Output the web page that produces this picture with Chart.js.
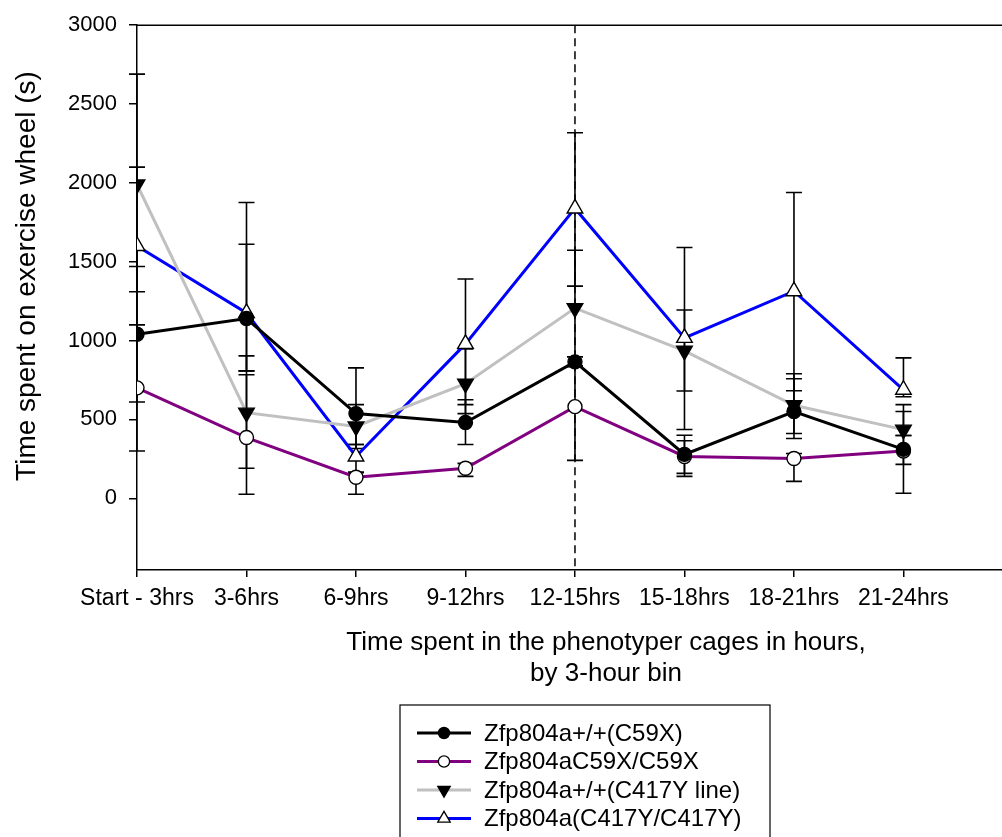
<!DOCTYPE html>
<html lang="en">
<head>
    <meta charset="UTF-8">
    <title>Exercise wheel</title>
    <script src="https://cdn.jsdelivr.net/npm/chart.js"></script>
    <style>
        body { margin: 0; background: #fff; }
        #wrap { width: 1002px; height: 837px; }
    </style>
</head>
<body>
    <div id="wrap">
        <canvas id="wheelChart" width="1002" height="837"></canvas>
    </div>

    <script>
        // categories (3-hour bins)
        const categories = ['Start - 3hrs', '3-6hrs', '6-9hrs', '9-12hrs', '12-15hrs', '15-18hrs', '18-21hrs', '21-24hrs'];
        const yTicks = [0, 500, 1000, 1500, 2000, 2500, 3000];

        // Zfp804a+/+(C59X)
        const wtC59X = [1040, 1140, 537, 480, 865, 278, 550, 310];
        const wtC59XHi = [1470, 1611, 827, 625, 897, 400, 758, 398];
        const wtC59XLo = [610, 808, 341, 341, 835, 158, 379, 215];
        // Zfp804aC59X/C59X
        const homC59X = [700, 385, 133, 190, 581, 265, 252, 300];
        const homC59XHi = [1100, 783, 164, 221, 897, 365, 284, 550];
        const homC59XLo = [300, 25, 25, 139, 240, 139, 107, 32];
        // Zfp804a+/+(C417Y line)
        const wtC417Y = [1990, 543, 455, 727, 1206, 935, 590, 435];
        const wtC417YHi = [2690, 903, 594, 947, 1573, 1194, 790, 594];
        const wtC417YLo = [1310, 190, 316, 537, 840, 680, 411, 398];
        // Zfp804a(C417Y/C417Y)
        const homC417Y = [1600, 1175, 265, 979, 1838, 1017, 1313, 688];
        const homC417YHi = [2100, 1876, 341, 1390, 2318, 1590, 1939, 890];
        const homC417YLo = [1100, 808, 164, 594, 1345, 436, 682, 644];

        const dividerAt = 4; // dashed line at 12-15hrs
        const FONT = "'Liberation Sans', Arial, sans-serif";

        function pts(vals) {
            return vals.map((v, i) => ({ x: i, y: v }));
        }

        const series = [
            { label: 'Zfp804a+/+(C59X)', data: wtC59X, hi: wtC59XHi, lo: wtC59XLo,
              color: '#000000', style: 'circle', fill: '#000000', r: 7, rot: 0 },
            { label: 'Zfp804aC59X/C59X', data: homC59X, hi: homC59XHi, lo: homC59XLo,
              color: '#800080', style: 'circle', fill: '#ffffff', r: 7, rot: 0 },
            { label: 'Zfp804a+/+(C417Y line)', data: wtC417Y, hi: wtC417YHi, lo: wtC417YLo,
              color: '#c0c0c0', style: 'triangle', fill: '#000000', r: 9, rot: 180 },
            { label: 'Zfp804a(C417Y/C417Y)', data: homC417Y, hi: homC417YHi, lo: homC417YLo,
              color: '#0000ff', style: 'triangle', fill: '#ffffff', r: 9, rot: 0 }
        ];

        // error bars, divider, frame, titles and legend
        const extras = {
            id: 'extras',
            beforeDatasetsDraw(chart) {
                const ctx = chart.ctx;
                const xs = chart.scales.x, ys = chart.scales.y;
                ctx.save();
                ctx.strokeStyle = '#000';
                ctx.lineWidth = 1.6;
                series.forEach(s => {
                    s.data.forEach((v, i) => {
                        const x = xs.getPixelForValue(i);
                        const yh = ys.getPixelForValue(s.hi[i]);
                        const yl = ys.getPixelForValue(s.lo[i]);
                        ctx.beginPath();
                        ctx.moveTo(x, yh); ctx.lineTo(x, yl);
                        ctx.moveTo(x - 8, yh); ctx.lineTo(x + 8, yh);
                        ctx.moveTo(x - 8, yl); ctx.lineTo(x + 8, yl);
                        ctx.stroke();
                    });
                });
                // dashed divider
                const dx = xs.getPixelForValue(dividerAt);
                ctx.setLineDash([8, 5]);
                ctx.lineWidth = 1.5;
                ctx.beginPath();
                ctx.moveTo(dx, chart.chartArea.top);
                ctx.lineTo(dx, chart.chartArea.bottom);
                ctx.stroke();
                ctx.restore();
            },
            afterDraw(chart) {
                const ctx = chart.ctx;
                const a = chart.chartArea;
                ctx.save();
                // top frame line
                ctx.strokeStyle = '#000';
                ctx.lineWidth = 1.5;
                ctx.beginPath();
                ctx.moveTo(a.left, a.top);
                ctx.lineTo(chart.width, a.top);
                ctx.stroke();

                // axis titles
                ctx.fillStyle = '#000';
                ctx.font = '26px ' + FONT;
                ctx.textAlign = 'center';
                ctx.textBaseline = 'middle';
                ctx.fillText('Time spent in the phenotyper cages in hours,', 606, 643);
                ctx.fillText('by 3-hour bin', 606, 674);
                ctx.save();
                ctx.translate(27, 276);
                ctx.rotate(-Math.PI / 2);
                ctx.font = '28px ' + FONT;
                ctx.fillText('Time spent on exercise wheel (s)', 0, 0);
                ctx.restore();

                // legend
                ctx.lineWidth = 1.2;
                ctx.strokeRect(400, 705, 370, 200);
                ctx.font = '24px ' + FONT;
                ctx.textAlign = 'left';
                series.forEach((s, k) => {
                    const y = 733 + k * 28.5;
                    ctx.strokeStyle = s.color;
                    ctx.lineWidth = 3;
                    ctx.beginPath();
                    ctx.moveTo(417, y); ctx.lineTo(471, y);
                    ctx.stroke();
                    ctx.fillStyle = s.fill;
                    ctx.strokeStyle = '#000';
                    ctx.lineWidth = 1.3;
                    Chart.helpers.drawPoint(ctx, {
                        pointStyle: s.style, radius: s.r * 0.8, rotation: s.rot, borderWidth: 1.3
                    }, 444, y);
                    ctx.fillStyle = '#000';
                    ctx.fillText(s.label, 484, y + 1);
                });
                ctx.restore();
            }
        };

        const ctx = document.getElementById('wheelChart').getContext('2d');
        const wheelChart = new Chart(ctx, {
            type: 'line',
            data: {
                datasets: series.map(s => ({
                    label: s.label,
                    data: pts(s.data),
                    borderColor: s.color,
                    borderWidth: 3,
                    pointStyle: s.style,
                    pointRotation: s.rot,
                    pointRadius: s.r,
                    pointBackgroundColor: s.fill,
                    pointBorderColor: '#000',
                    pointBorderWidth: 1.4,
                    tension: 0,
                    fill: false
                }))
            },
            options: {
                responsive: false,
                animation: false,
                layout: { autoPadding: false, padding: { top: 22, right: 0, left: 0, bottom: 0 } },
                plugins: {
                    legend: { display: false },
                    tooltip: { enabled: false }
                },
                scales: {
                    x: {
                        type: 'linear',
                        min: 0,
                        max: 7.9,
                        afterFit(scale) {
                            scale.height = 267;
                            scale.paddingLeft = 0;
                            scale.paddingRight = 0;
                        },
                        afterBuildTicks(scale) {
                            scale.ticks = categories.map((c, i) => ({ value: i }));
                        },
                        grid: { drawOnChartArea: false, drawTicks: true, tickLength: 7, color: '#000', lineWidth: 1.5 },
                        border: { color: '#000', width: 1.5 },
                        ticks: {
                            color: '#000',
                            font: { family: FONT, size: 23 },
                            padding: 8,
                            maxRotation: 0,
                            autoSkip: false,
                            callback: v => categories[v]
                        }
                    },
                    y: {
                        min: -455,
                        max: 3000,
                        afterFit(scale) { scale.width = 137; },
                        afterBuildTicks(scale) {
                            scale.ticks = yTicks.map(v => ({ value: v }));
                        },
                        grid: { drawOnChartArea: false, drawTicks: true, tickLength: 8, color: '#000', lineWidth: 1.5 },
                        border: { color: '#000', width: 1.5 },
                        ticks: {
                            color: '#000',
                            font: { family: FONT, size: 22 },
                            padding: 12,
                            callback: v => String(v)
                        }
                    }
                }
            },
            plugins: [extras]
        });
    </script>
</body>
</html>
